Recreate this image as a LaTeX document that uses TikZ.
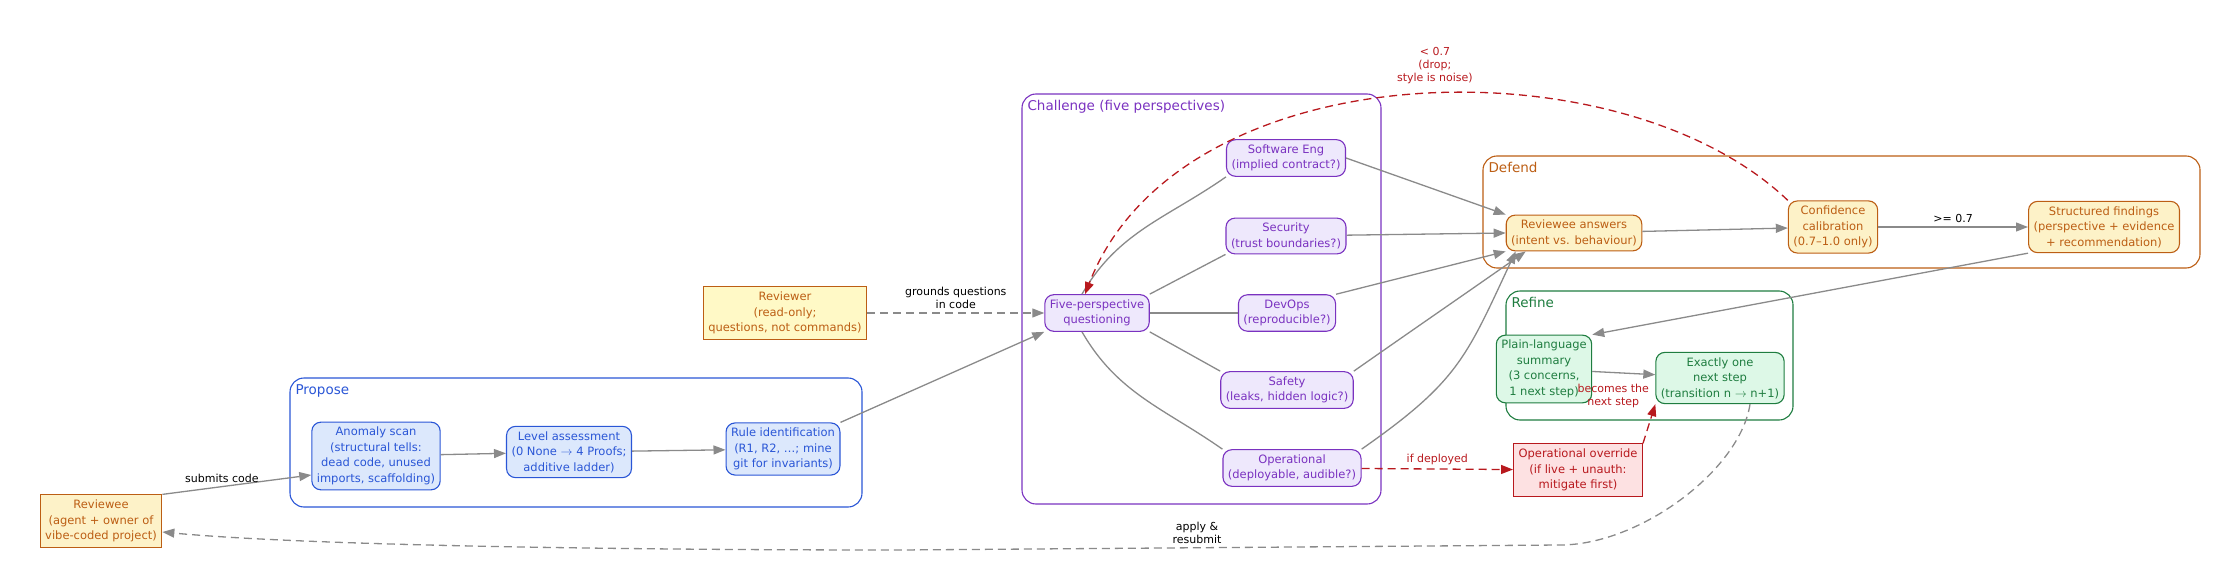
\documentclass[tikz,border=0pt]{standalone}
\usepackage{fontspec}
\setmainfont{DejaVu Sans}
\usetikzlibrary{arrows.meta}
\definecolor{bluetx}{HTML}{2A56D6}
\definecolor{bluefl}{HTML}{DCE8FC}
\definecolor{purptx}{HTML}{7A32C0}
\definecolor{purpfl}{HTML}{EEE8FC}
\definecolor{orgtx}{HTML}{BC5E14}
\definecolor{orgfl}{HTML}{FDF2C8}
\definecolor{grntx}{HTML}{1F7D40}
\definecolor{grnfl}{HTML}{DDF8E7}
\definecolor{redtx}{HTML}{B8191E}
\definecolor{redfl}{HTML}{FDE1E2}
\definecolor{notefl}{HTML}{FFF9C6}
\definecolor{edgegr}{HTML}{8A8A8A}

\tikzset{
  box/.style={draw,rounded corners=9pt,align=center,line width=1.1pt,inner xsep=5pt,inner ysep=5pt,
    font=\fontsize{11.5}{15.5}\selectfont},
  bluebox/.style={box,draw=bluetx,fill=bluefl,text=bluetx},
  purpbox/.style={box,draw=purptx,fill=purpfl,text=purptx},
  orgbox/.style={box,draw=orgtx,fill=orgfl,text=orgtx},
  grnbox/.style={box,draw=grntx,fill=grnfl,text=grntx},
  note/.style={draw,align=center,line width=1.1pt,inner sep=5pt,
    font=\fontsize{11.5}{15.5}\selectfont,
    append after command={
      [draw,fill=white] ([xshift=-9pt]\tikzlastnode.north east) -- ++(9pt,-9pt)
      -- ++(0,9pt) -- cycle
      [draw] ([xshift=-9pt]\tikzlastnode.north east) -- ++(0,-9pt) -- ++(9pt,0)}},
  cluster/.style={draw,rounded corners=14pt,line width=1.1pt},
  clabel/.style={anchor=north west,font=\fontsize{13.5}{15}\selectfont},
  dsh/.style={dash pattern=on 8pt off 5pt},
  arr/.style={draw=edgegr,line width=1.3pt,-{Triangle[length=12pt,width=9pt]}},
  redarr/.style={draw=redtx,line width=1.3pt,dsh,-{Triangle[length=12pt,width=9pt]}},
  lnk/.style={draw=edgegr,line width=1.3pt},
  elab/.style={font=\fontsize{11}{13}\selectfont,align=center},
}

\begin{document}
\begin{tikzpicture}[x=1pt,y=-1pt]
	\useasboundingbox (0,0) rectangle (2240,580);

	%CLUSTERS
	\draw[cluster,draw=bluetx] (290,378) rectangle (862,507);
	\node[clabel,text=bluetx] at (292,381) {Propose};
	\draw[cluster,draw=purptx] (1022,94) rectangle (1381,504);
	\node[clabel,text=purptx] at (1024,97) {Challenge (five perspectives)};
	\draw[cluster,draw=orgtx] (1483,156) rectangle (2200,268);
	\node[clabel,text=orgtx] at (1485,159) {Defend};
	\draw[cluster,draw=grntx] (1506,291) rectangle (1793,420);
	\node[clabel,text=grntx] at (1508,294) {Refine};

	%NOTES
	\node[note,draw=orgtx,fill=orgfl,text=orgtx] (reviewee) at (101,521)
		{Reviewee\\(agent + owner of\\vibe-coded project)};
	\node[note,draw=orgtx,fill=notefl,text=orgtx] (reviewer) at (785,313)
		{Reviewer\\(read-only;\\questions, not commands)};
	\node[note,draw=redtx,fill=redfl,text=redtx] (override) at (1578,470)
		{Operational override\\(if live + unauth:\\mitigate first)};

	%PROPOSE
	\node[bluebox] (anomaly) at (376,456) {Anomaly scan\\(structural tells:\\dead code, unused\\imports, scaffolding)};
	\node[bluebox] (level) at (569,452) {Level assessment\\(0 None \(\rightarrow\) 4 Proofs;\\additive ladder)};
	\node[bluebox] (rule) at (783,449) {Rule identification\\(R1, R2, \ldots; mine\\git for invariants)};

	%CHALLENGE
	\node[purpbox] (five) at (1097,313) {Five-perspective\\questioning};
	\node[purpbox] (softeng) at (1286,158) {Software Eng\\(implied contract?)};
	\node[purpbox] (security) at (1286,236) {Security\\(trust boundaries?)};
	\node[purpbox] (devops) at (1287,313) {DevOps\\(reproducible?)};
	\node[purpbox] (safety) at (1287,390) {Safety\\(leaks, hidden logic?)};
	\node[purpbox] (operational) at (1292,468) {Operational\\(deployable, audible?)};

	%DEFEND
	\node[orgbox] (answers) at (1574,233) {Reviewee answers\\(intent vs. behaviour)};
	\node[orgbox] (confidence) at (1833,227) {Confidence\\calibration\\(0.7--1.0 only)};
	\node[orgbox] (findings) at (2104,227) {Structured findings\\(perspective + evidence\\+ recommendation)};

	%REFINE
	\node[grnbox] (summary) at (1544,369) {Plain-language\\summary\\(3 concerns,\\1 next step)};
	\node[grnbox] (nextstep) at (1720,378) {Exactly one\\next step\\(transition n \(\rightarrow\) n+1)};

	%ARCS
	\draw[arr] (reviewee.north east) -- node[elab,above,pos=0.4]{submits code} (anomaly.west |- 0,475);
	\draw[arr] (anomaly) -- (level);
	\draw[arr] (level) -- (rule);
	\draw[arr] (rule.north east) -- (five.south west);
	\draw[arr,dsh] (reviewer) -- node[elab,above]{grounds questions\\in code} (five);
	%
	\draw[lnk] (five.north) ++(-15pt,0) to[out=60,in=215] (softeng.south west);
	\draw[lnk] (five.north east) -- (security.south west);
	\draw[lnk] (five) -- (devops);
	\draw[lnk] (five.south east) -- (safety.north west);
	\draw[lnk] (five.south) ++(-15pt,0) to[out=-60,in=145] (operational.north west);
	%
	\draw[arr] (softeng.east) -- (answers.north west);
	\draw[arr] (security) -- (answers.west);
	\draw[arr] (devops.north east) -- (answers.south west);
	\draw[arr] (safety.north east) to[out=35,in=215] ([xshift=20pt]answers.south west);
	\draw[arr] (operational.north east) to[out=35,in=245,looseness=1.2] ([xshift=10pt]answers.south west);
	%
	\draw[arr] (answers) -- (confidence);
	\draw[arr] (confidence) -- node[elab,above]{>= 0.7} (findings);
	\draw[redarr] (confidence.north west) .. controls (1620,40) and (1180,50) .. ([xshift=-12pt]five.north)
		node[elab,text=redtx,pos=0.47,above=6pt]{< 0.7\\(drop;\\style is noise)};
	\draw[arr] (findings.south west) -- (summary.north east);
	\draw[arr] (summary) -- (nextstep);
	%
	\draw[redarr] (operational) -- node[elab,above,text=redtx]{if deployed} (override);
	\draw[redarr] (override.north east) -- node[elab,above left,text=redtx,pos=0.8]{becomes the\\next step} (nextstep.south west);
	\draw[arr,dsh] ([xshift=30pt]nextstep.south) .. controls (1740,470) and (1640,545) .. (1560,545)
		-- (900,550) node[elab,above,text=black,pos=0.55]{apply \&\\resubmit}
		.. controls (600,550) and (300,545) .. (reviewee.east |- 0,532);
\end{tikzpicture}
\end{document}
